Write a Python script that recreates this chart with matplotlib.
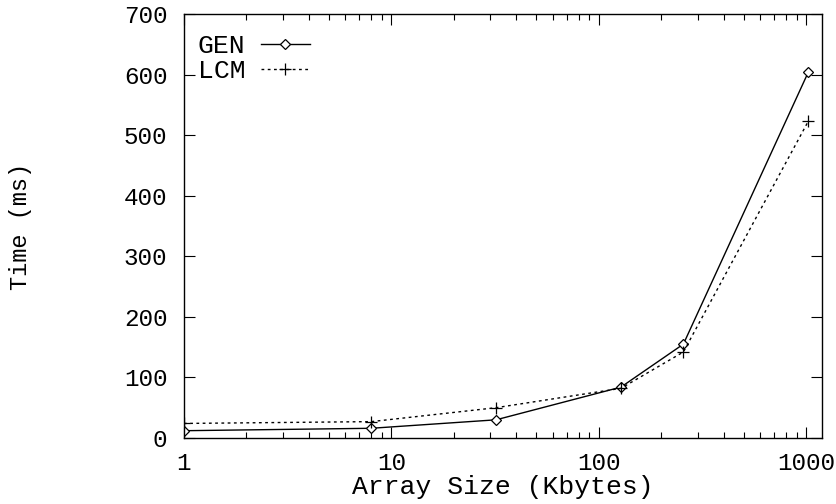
import matplotlib
matplotlib.use("Agg")
import matplotlib.pyplot as plt
from matplotlib.ticker import LogLocator, NullFormatter, FixedLocator

# ------------------------------------------------------------
# Data
# ------------------------------------------------------------

array_size = [1, 8, 32, 128, 256, 1024]
gen_time = [12, 16, 30, 84, 155, 604]
lcm_time = [24, 27, 50, 82, 142, 523]

x_ticks = [1, 10, 100, 1000]
x_tick_labels = ["1", "10", "100", "1000"]
y_ticks = [0, 100, 200, 300, 400, 500, 600, 700]

# ------------------------------------------------------------
# Plot
# ------------------------------------------------------------

plt.rcParams["font.family"] = ["Liberation Mono", "DejaVu Sans Mono"]

fig = plt.figure(figsize=(8.36, 5.04), dpi=100)
ax = fig.add_axes([0.220, 0.131, 0.763, 0.841])

ax.plot(array_size, gen_time, color="black", linewidth=1.0, linestyle="-",
        marker="D", markersize=5, markerfacecolor="white",
        markeredgecolor="black", markeredgewidth=0.9, label="GEN")
ax.plot(array_size, lcm_time, color="black", linewidth=1.0, linestyle=(0, (2, 2.5)),
        marker="+", markersize=8, markeredgewidth=0.9, label="LCM")

ax.set_xscale("log")
ax.set_xlim(1, 1190)
ax.set_ylim(0, 700)

ax.xaxis.set_major_locator(FixedLocator(x_ticks))
ax.set_xticklabels(x_tick_labels)
ax.xaxis.set_minor_locator(LogLocator(base=10, subs=range(2, 10)))
ax.xaxis.set_minor_formatter(NullFormatter())
ax.set_yticks(y_ticks)

ax.tick_params(axis="both", which="major", direction="in", length=8, width=0.8,
               top=True, right=True, labelsize=17.5)
ax.tick_params(axis="x", which="major", pad=10)
ax.tick_params(axis="y", which="major", pad=12)
ax.tick_params(axis="both", which="minor", direction="in", length=4, width=0.8,
               top=True, right=True)

for spine in ax.spines.values():
    spine.set_linewidth(1.0)

ax.set_xlabel("Array Size (Kbytes)", fontsize=19)
ax.xaxis.set_label_coords(0.5, -0.088)
ax.set_ylabel("Time (ms)", fontsize=17)
ax.yaxis.set_label_coords(-0.238, 0.498)

leg = ax.legend(loc="upper left", bbox_to_anchor=(0.0055, 0.978), frameon=False,
                markerfirst=False, fontsize=19, handlelength=1.85,
                handletextpad=0.58, borderaxespad=0.0, labelspacing=0.05)

fig.savefig("out.png", dpi=100)
